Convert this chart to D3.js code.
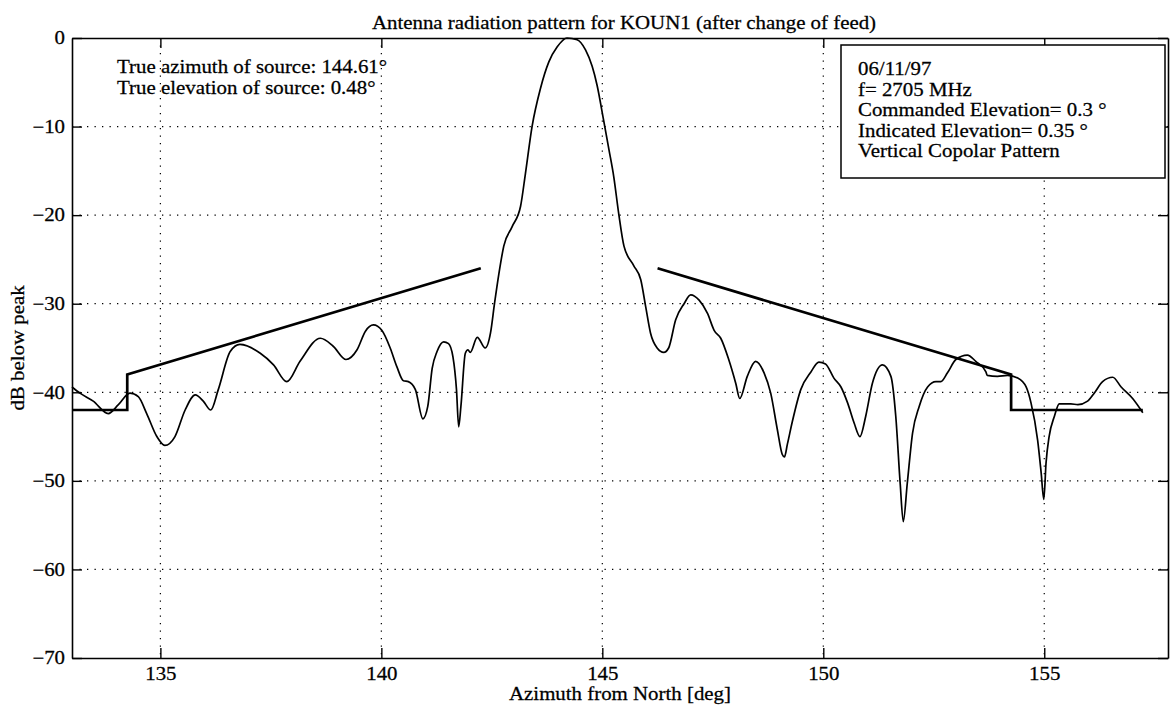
<!DOCTYPE html>
<html>
<head>
<meta charset="utf-8">
<script src="https://cdn.jsdelivr.net/npm/d3@7"></script>
<style>
  html, body { margin: 0; padding: 0; background: #fff; }
  svg { display: block; }
  text { font-family: "Liberation Serif", "Times New Roman", serif; fill: #000; }
</style>
</head>
<body>
<svg id="chart" width="1170" height="706"></svg>
<script>
// ---- data ----
const azimuth = [133.0,133.18,133.48,133.82,134.05,134.31,134.5,134.69,134.92,135.1,135.33,135.56,135.79,135.97,136.14,136.31,136.58,136.8,137.26,137.56,137.86,138.16,138.62,138.91,139.2,139.45,139.64,139.82,140.01,140.2,140.35,140.5,140.61,140.77,140.94,141.05,141.15,141.26,141.41,141.52,141.62,141.7,141.75,141.8,141.9,141.96,142.01,142.17,142.35,142.47,142.56,142.66,142.77,142.96,143.15,143.26,143.41,143.6,143.79,143.98,144.2,144.43,144.62,144.77,144.88,145.03,145.15,145.26,145.37,145.49,145.71,145.87,145.98,146.09,146.24,146.39,146.5,146.66,146.85,147.0,147.19,147.38,147.53,147.68,147.86,148.02,148.11,148.28,148.47,148.66,148.81,148.96,149.07,149.12,149.19,149.3,149.49,149.72,149.9,150.05,150.24,150.4,150.55,150.7,150.83,150.96,151.11,151.34,151.53,151.64,151.74,151.81,151.9,152.02,152.17,152.36,152.55,152.66,152.81,153.0,153.26,153.45,153.68,153.71,153.94,154.17,154.4,154.59,154.7,154.85,154.93,154.99,155.04,155.11,155.23,155.34,155.6,155.76,155.98,156.13,156.32,156.55,156.74,157.0,157.23];
const patternDb = [-39.4,-40.1,-41.0,-42.4,-41.4,-40.1,-40.5,-42.4,-45.0,-46.0,-45.0,-42.0,-40.3,-41.0,-42.0,-39.7,-35.4,-34.6,-35.6,-36.9,-38.8,-36.5,-33.9,-34.8,-36.3,-35.2,-33.1,-32.4,-33.0,-35.0,-37.1,-38.7,-38.8,-39.7,-43.0,-41.6,-37.3,-35.4,-34.3,-34.5,-36.0,-39.7,-43.9,-41.6,-35.6,-35.2,-35.5,-33.8,-35.0,-33.3,-30.0,-26.6,-23.5,-21.3,-19.0,-15.3,-10.0,-5.7,-2.7,-1.0,0,-0.2,-1.35,-3.2,-5.3,-9.3,-12.6,-15.7,-19.8,-23.5,-25.7,-27.3,-30.3,-33.3,-35.0,-35.5,-35.0,-31.8,-30.0,-29.0,-29.6,-31.1,-33.0,-33.9,-36.3,-39.0,-40.7,-38.2,-36.5,-37.8,-40.1,-44.2,-47.0,-47.3,-45.8,-43.3,-39.7,-37.7,-36.6,-36.8,-38.4,-39.4,-41.2,-43.5,-45.0,-42.7,-39.0,-36.9,-38.2,-42.7,-50.3,-54.6,-50.3,-44.6,-41.6,-39.4,-38.8,-38.8,-37.8,-36.3,-35.8,-36.5,-37.7,-38.1,-38.2,-38.1,-38.4,-39.4,-41.2,-45.4,-49.1,-52.1,-48.0,-45.0,-42.7,-41.3,-41.3,-41.4,-41.0,-40.1,-38.8,-38.3,-39.4,-40.7,-42.3];

const maskLeftAz = [133.0, 134.25, 134.25, 142.25];
const maskLeftDb = [-42, -42, -38, -26];
const maskRightAz = [146.25, 154.25, 154.25, 157.23];
const maskRightDb = [-26, -38, -42, -42];

const xTicks = [135, 140, 145, 150, 155];
const yTicks = [0, -10, -20, -30, -40, -50, -60, -70];

const titleText = "Antenna radiation pattern for KOUN1 (after change of feed)";
const xLabel = "Azimuth from North [deg]";
const yLabel = "dB below peak";
const leftNotes = ["True azimuth of source: 144.61\u00b0", "True elevation of source: 0.48\u00b0"];
const boxNotes = ["06/11/97", "f= 2705 MHz", "Commanded Elevation= 0.3 \u00b0", "Indicated Elevation= 0.35 \u00b0", "Vertical Copolar Pattern"];

// ---- layout ----
const L = 72, R = 1168, T = 38, B = 658;
const svg = d3.select("#chart");
const x = d3.scaleLinear().domain([133, 157.8]).range([L, R]);
const y = d3.scaleLinear().domain([-70, 0]).range([B, T]);
const FS = 18, SX = 1.16;

function txt(px, py, str, anchor, rot) {
  return svg.append("text")
    .attr("transform", `translate(${px},${py})${rot ? " rotate(" + rot + ")" : ""} scale(${SX},1)`)
    .attr("text-anchor", anchor || "start")
    .attr("font-size", FS)
    .attr("stroke", "#000").attr("stroke-width", 0.25)
    .text(str);
}

// grid
const grid = svg.append("g").attr("stroke", "#000").attr("stroke-width", 1.2).attr("stroke-dasharray", "1.3,6.2");
grid.selectAll(".gx").data(xTicks).join("line")
  .attr("x1", d => x(d)).attr("x2", d => x(d)).attr("y1", T).attr("y2", B);
grid.selectAll(".gy").data(yTicks.filter(d => d > -70 && d < 0)).join("line")
  .attr("y1", d => y(d)).attr("y2", d => y(d)).attr("x1", L).attr("x2", R);

// axes
const fmt = d => (d < 0 ? "\u2212" + Math.abs(d) : String(d));
const gB = svg.append("g").attr("transform", `translate(0,${B})`)
  .call(d3.axisBottom(x).tickValues(xTicks).tickSizeInner(-10).tickSizeOuter(0).tickPadding(9).tickFormat(fmt));
const gT = svg.append("g").attr("transform", `translate(0,${T})`)
  .call(d3.axisTop(x).tickValues(xTicks).tickSizeInner(-10).tickSizeOuter(0).tickFormat(""));
const gL = svg.append("g").attr("transform", `translate(${L},0)`)
  .call(d3.axisLeft(y).tickValues(yTicks).tickSizeInner(-10).tickSizeOuter(0).tickPadding(6).tickFormat(fmt));
const gR = svg.append("g").attr("transform", `translate(${R},0)`)
  .call(d3.axisRight(y).tickValues(yTicks).tickSizeInner(-10).tickSizeOuter(0).tickFormat(""));
[gB, gT, gL, gR].forEach(g => {
  g.select(".domain").attr("stroke", "#000").attr("stroke-width", 1.6);
  g.selectAll(".tick line").attr("stroke", "#000").attr("stroke-width", 1.4);
  g.selectAll(".tick text").attr("font-size", FS).attr("font-family", "Liberation Serif")
    .attr("fill", "#000").attr("stroke", "#000").attr("stroke-width", 0.25)
    .attr("transform", `scale(${SX},1)`);
});

// pattern curve
const pts = azimuth.map((a, i) => [a, patternDb[i]]);
const line = d3.line().x(d => x(d[0])).y(d => y(d[1])).curve(d3.curveMonotoneX);
svg.append("path").datum(pts).attr("d", line)
  .attr("fill", "none").attr("stroke", "#000").attr("stroke-width", 1.7).attr("stroke-linejoin", "round");

// mask
const mline = d3.line().x(d => x(d[0])).y(d => y(d[1]));
[[maskLeftAz, maskLeftDb], [maskRightAz, maskRightDb]].forEach(([a, b]) => {
  svg.append("path").datum(a.map((v, i) => [v, b[i]])).attr("d", mline)
    .attr("fill", "none").attr("stroke", "#000").attr("stroke-width", 2.7).attr("stroke-linejoin", "miter");
});

// title & labels
txt((L + R) / 2 + 4, 29, titleText, "middle");
txt((L + R) / 2, 700, xLabel, "middle");
txt(24, (T + B) / 2, yLabel, "middle", -90);

// left notes
leftNotes.forEach((d, i) => txt(117, 73 + i * 20.5, d));

// box
svg.append("rect").attr("x", 841).attr("y", 45).attr("width", 324).attr("height", 133)
  .attr("fill", "#fff").attr("stroke", "#000").attr("stroke-width", 1.5);
boxNotes.forEach((d, i) => txt(858, 75 + i * 20.6, d));
</script>
</body>
</html>
